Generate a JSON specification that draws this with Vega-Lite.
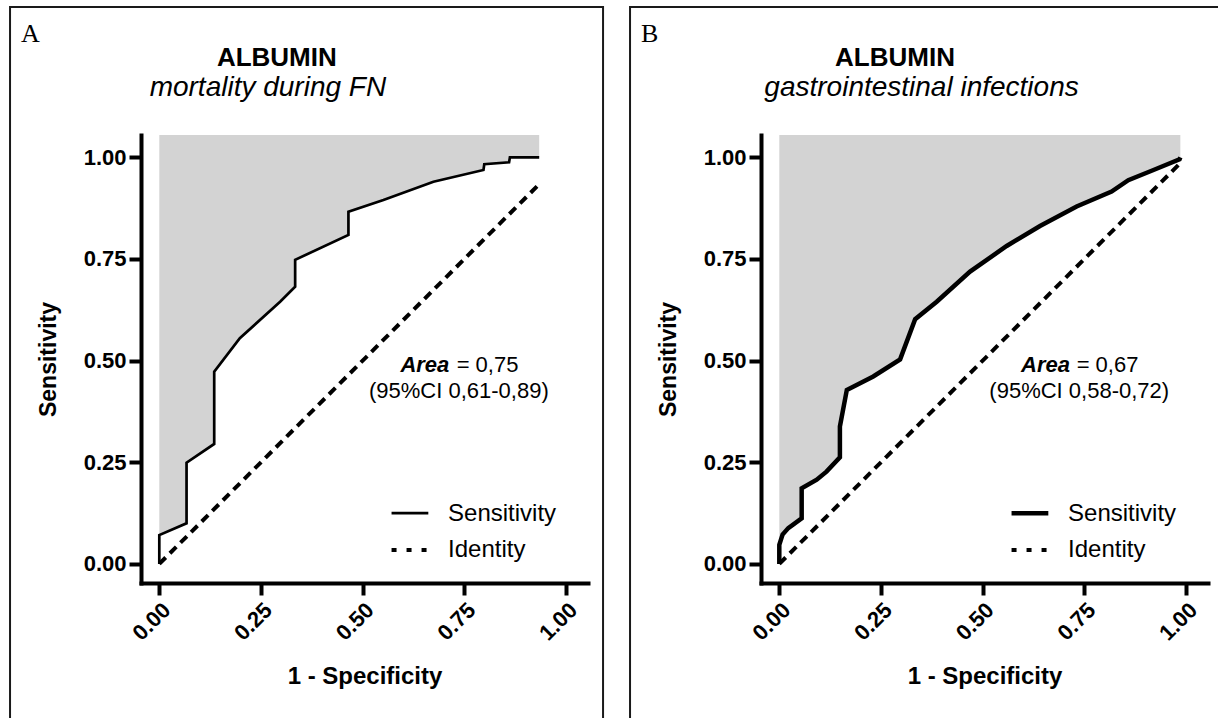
{
  "$schema": "https://vega.github.io/schema/vega-lite/v6.json",
  "background": "white",
  "padding": {"left": 9, "top": 6, "right": 0, "bottom": 0},
  "spacing": 24,
  "config": {
    "view": {"stroke": null},
    "font": "Liberation Sans",
    "axis": {
      "domainColor": "black", "domainWidth": 4, "domainCap": "square",
      "tickColor": "black", "tickWidth": 4, "tickSize": 12,
      "grid": false,
      "labelFont": "Liberation Sans", "labelFontWeight": "bold", "labelFontSize": 22, "labelColor": "black",
      "titleFont": "Liberation Sans", "titleFontWeight": "bold", "titleColor": "black",
      "labelOverlap": false, "labelFlush": false
    },
    "axisX": {"labelAngle": -45, "labelPadding": 4, "titlePadding": 20, "titleFontSize": 24},
    "axisY": {"labelPadding": 3, "titlePadding": 23, "titleFontSize": 23}
  },
  "datasets": {
    "rocA": [
      {"fpr": 0, "sens": 0}, {"fpr": 0, "sens": 0.071}, {"fpr": 0.067, "sens": 0.1}, {"fpr": 0.067, "sens": 0.249},
      {"fpr": 0.135, "sens": 0.295}, {"fpr": 0.135, "sens": 0.473}, {"fpr": 0.198, "sens": 0.555}, {"fpr": 0.297, "sens": 0.645},
      {"fpr": 0.334, "sens": 0.682}, {"fpr": 0.334, "sens": 0.748}, {"fpr": 0.465, "sens": 0.809}, {"fpr": 0.465, "sens": 0.866},
      {"fpr": 0.551, "sens": 0.895}, {"fpr": 0.674, "sens": 0.94}, {"fpr": 0.797, "sens": 0.969}, {"fpr": 0.799, "sens": 0.983},
      {"fpr": 0.86, "sens": 0.988}, {"fpr": 0.862, "sens": 1.0}, {"fpr": 0.934, "sens": 1.0}
    ],
    "idA": [{"fpr": 0, "sens": 0}, {"fpr": 0.935, "sens": 0.935}],
    "rocB": [
      {"fpr": 0, "sens": 0}, {"fpr": 0, "sens": 0.047}, {"fpr": 0.008, "sens": 0.072}, {"fpr": 0.022, "sens": 0.088},
      {"fpr": 0.055, "sens": 0.112}, {"fpr": 0.055, "sens": 0.186}, {"fpr": 0.092, "sens": 0.207}, {"fpr": 0.116, "sens": 0.227},
      {"fpr": 0.149, "sens": 0.262}, {"fpr": 0.149, "sens": 0.338}, {"fpr": 0.166, "sens": 0.428}, {"fpr": 0.231, "sens": 0.461},
      {"fpr": 0.297, "sens": 0.503}, {"fpr": 0.334, "sens": 0.602}, {"fpr": 0.387, "sens": 0.645}, {"fpr": 0.469, "sens": 0.719},
      {"fpr": 0.559, "sens": 0.782}, {"fpr": 0.641, "sens": 0.831}, {"fpr": 0.731, "sens": 0.879}, {"fpr": 0.817, "sens": 0.916},
      {"fpr": 0.858, "sens": 0.944}, {"fpr": 0.92, "sens": 0.969}, {"fpr": 0.984, "sens": 0.995}, {"fpr": 0.986, "sens": 1.0}
    ],
    "idB": [{"fpr": 0, "sens": 0}, {"fpr": 0.985, "sens": 0.985}],
    "one": [{}]
  },
  "hconcat": [
    {
      "width": 447, "height": 448,
      "layer": [
        {
          "data": {"name": "one"},
          "mark": {"type": "rect", "fillOpacity": 0, "stroke": "#1a1a1a", "strokeWidth": 2},
          "encoding": {
            "x": {"datum": -0.367, "type": "quantitative", "scale": {"domain": [-0.045, 1.054], "nice": false, "zero": false}, "title": "1 - Specificity"},
            "x2": {"datum": 1.091},
            "y": {"datum": -0.41, "type": "quantitative", "scale": {"domain": [-0.047, 1.055], "nice": false, "zero": false}, "title": "Sensitivity"},
            "y2": {"datum": 1.3696}
          }
        },
        {
          "data": {"name": "rocA"},
          "mark": {"type": "area", "color": "#d3d3d3"},
          "encoding": {
            "x": {"field": "fpr", "type": "quantitative", "scale": {"domain": [-0.045, 1.054], "nice": false, "zero": false}, "title": "1 - Specificity",
                  "axis": {"values": [0, 0.25, 0.5, 0.75, 1], "format": ".2f"}},
            "y": {"field": "sens", "type": "quantitative", "scale": {"domain": [-0.047, 1.055], "nice": false, "zero": false}, "title": "Sensitivity",
                  "axis": {"values": [0, 0.25, 0.5, 0.75, 1], "format": ".2f"}},
            "y2": {"datum": 1.055}
          }
        },
        {
          "data": {"name": "idA"},
          "mark": {"type": "line", "color": "black", "strokeWidth": 4, "strokeCap": "butt", "strokeDash": [9, 6]},
          "encoding": {
            "x": {"field": "fpr", "type": "quantitative", "title": "1 - Specificity"},
            "y": {"field": "sens", "type": "quantitative", "title": "Sensitivity"}
          }
        },
        {
          "data": {"name": "rocA"},
          "mark": {"type": "line", "color": "black", "strokeWidth": 2.7},
          "encoding": {
            "x": {"field": "fpr", "type": "quantitative", "title": "1 - Specificity"},
            "y": {"field": "sens", "type": "quantitative", "title": "Sensitivity"}
          }
        },
        {
          "data": {"name": "one"},
          "mark": {"type": "rule", "color": "black", "strokeWidth": 2.7},
          "encoding": {"x": {"datum": 0.571, "type": "quantitative"}, "x2": {"datum": 0.6614}, "y": {"datum": 0.1247, "type": "quantitative"}}
        },
        {
          "data": {"name": "one"},
          "mark": {"type": "rule", "color": "black", "strokeWidth": 4, "strokeDash": [5, 10]},
          "encoding": {"x": {"datum": 0.571, "type": "quantitative"}, "x2": {"datum": 0.6614}, "y": {"datum": 0.0344, "type": "quantitative"}}
        },
        {
          "data": {"name": "one"},
          "mark": {"type": "text", "text": "Sensitivity", "fontSize": 24, "align": "left", "baseline": "alphabetic", "color": "black"},
          "encoding": {"x": {"datum": 0.7099, "type": "quantitative"}, "y": {"datum": 0.105, "type": "quantitative"}}
        },
        {
          "data": {"name": "one"},
          "mark": {"type": "text", "text": "Identity", "fontSize": 24, "align": "left", "baseline": "alphabetic", "color": "black"},
          "encoding": {"x": {"datum": 0.7099, "type": "quantitative"}, "y": {"datum": 0.016, "type": "quantitative"}}
        },
        {
          "data": {"name": "one"},
          "mark": {"type": "text", "text": "A", "font": "Liberation Serif", "fontSize": 26, "align": "left", "baseline": "alphabetic", "color": "black"},
          "encoding": {"x": {"datum": -0.34, "type": "quantitative"}, "y": {"datum": 1.2835, "type": "quantitative"}}
        },
        {
          "data": {"name": "one"},
          "mark": {"type": "text", "text": "ALBUMIN", "fontSize": 26, "fontWeight": "bold", "align": "center", "baseline": "alphabetic", "color": "black"},
          "encoding": {"x": {"datum": 0.289, "type": "quantitative"}, "y": {"datum": 1.2245, "type": "quantitative"}}
        },
        {
          "data": {"name": "one"},
          "mark": {"type": "text", "text": "mortality during FN", "fontSize": 28, "fontStyle": "italic", "align": "center", "baseline": "alphabetic", "color": "black"},
          "encoding": {"x": {"datum": 0.267, "type": "quantitative"}, "y": {"datum": 1.151, "type": "quantitative"}}
        },
        {
          "data": {"name": "one"},
          "mark": {"type": "text", "text": "Area", "fontSize": 22, "fontWeight": "bold", "fontStyle": "italic", "align": "right", "baseline": "alphabetic", "color": "black"},
          "encoding": {"x": {"datum": 0.713, "type": "quantitative"}, "y": {"datum": 0.4728, "type": "quantitative"}}
        },
        {
          "data": {"name": "one"},
          "mark": {"type": "text", "text": "= 0,75", "fontSize": 22, "align": "left", "baseline": "alphabetic", "color": "black"},
          "encoding": {"x": {"datum": 0.731, "type": "quantitative"}, "y": {"datum": 0.4728, "type": "quantitative"}}
        },
        {
          "data": {"name": "one"},
          "mark": {"type": "text", "text": "(95%CI 0,61-0,89)", "fontSize": 22, "align": "center", "baseline": "alphabetic", "color": "black"},
          "encoding": {"x": {"datum": 0.7364, "type": "quantitative"}, "y": {"datum": 0.4074, "type": "quantitative"}}
        }
      ]
    },
    {
      "width": 447, "height": 448,
      "layer": [
        {
          "data": {"name": "one"},
          "mark": {"type": "rect", "fillOpacity": 0, "stroke": "#1a1a1a", "strokeWidth": 2},
          "encoding": {
            "x": {"datum": -0.367, "type": "quantitative", "scale": {"domain": [-0.045, 1.054], "nice": false, "zero": false}, "title": "1 - Specificity"},
            "x2": {"datum": 1.091},
            "y": {"datum": -0.41, "type": "quantitative", "scale": {"domain": [-0.047, 1.055], "nice": false, "zero": false}, "title": "Sensitivity"},
            "y2": {"datum": 1.3696}
          }
        },
        {
          "data": {"name": "rocB"},
          "mark": {"type": "area", "color": "#d3d3d3"},
          "encoding": {
            "x": {"field": "fpr", "type": "quantitative", "scale": {"domain": [-0.045, 1.054], "nice": false, "zero": false}, "title": "1 - Specificity",
                  "axis": {"values": [0, 0.25, 0.5, 0.75, 1], "format": ".2f"}},
            "y": {"field": "sens", "type": "quantitative", "scale": {"domain": [-0.047, 1.055], "nice": false, "zero": false}, "title": "Sensitivity",
                  "axis": {"values": [0, 0.25, 0.5, 0.75, 1], "format": ".2f"}},
            "y2": {"datum": 1.055}
          }
        },
        {
          "data": {"name": "idB"},
          "mark": {"type": "line", "color": "black", "strokeWidth": 4, "strokeCap": "butt", "strokeDash": [9, 6]},
          "encoding": {
            "x": {"field": "fpr", "type": "quantitative", "title": "1 - Specificity"},
            "y": {"field": "sens", "type": "quantitative", "title": "Sensitivity"}
          }
        },
        {
          "data": {"name": "rocB"},
          "mark": {"type": "line", "color": "black", "strokeWidth": 4.5},
          "encoding": {
            "x": {"field": "fpr", "type": "quantitative", "title": "1 - Specificity"},
            "y": {"field": "sens", "type": "quantitative", "title": "Sensitivity"}
          }
        },
        {
          "data": {"name": "one"},
          "mark": {"type": "rule", "color": "black", "strokeWidth": 4.5},
          "encoding": {"x": {"datum": 0.571, "type": "quantitative"}, "x2": {"datum": 0.6614}, "y": {"datum": 0.1247, "type": "quantitative"}}
        },
        {
          "data": {"name": "one"},
          "mark": {"type": "rule", "color": "black", "strokeWidth": 4, "strokeDash": [5, 10]},
          "encoding": {"x": {"datum": 0.571, "type": "quantitative"}, "x2": {"datum": 0.6614}, "y": {"datum": 0.0344, "type": "quantitative"}}
        },
        {
          "data": {"name": "one"},
          "mark": {"type": "text", "text": "Sensitivity", "fontSize": 24, "align": "left", "baseline": "alphabetic", "color": "black"},
          "encoding": {"x": {"datum": 0.7099, "type": "quantitative"}, "y": {"datum": 0.105, "type": "quantitative"}}
        },
        {
          "data": {"name": "one"},
          "mark": {"type": "text", "text": "Identity", "fontSize": 24, "align": "left", "baseline": "alphabetic", "color": "black"},
          "encoding": {"x": {"datum": 0.7099, "type": "quantitative"}, "y": {"datum": 0.016, "type": "quantitative"}}
        },
        {
          "data": {"name": "one"},
          "mark": {"type": "text", "text": "B", "font": "Liberation Serif", "fontSize": 26, "align": "left", "baseline": "alphabetic", "color": "black"},
          "encoding": {"x": {"datum": -0.34, "type": "quantitative"}, "y": {"datum": 1.2835, "type": "quantitative"}}
        },
        {
          "data": {"name": "one"},
          "mark": {"type": "text", "text": "ALBUMIN", "fontSize": 26, "fontWeight": "bold", "align": "center", "baseline": "alphabetic", "color": "black"},
          "encoding": {"x": {"datum": 0.2845, "type": "quantitative"}, "y": {"datum": 1.2245, "type": "quantitative"}}
        },
        {
          "data": {"name": "one"},
          "mark": {"type": "text", "text": "gastrointestinal infections", "fontSize": 28, "fontStyle": "italic", "align": "center", "baseline": "alphabetic", "color": "black"},
          "encoding": {"x": {"datum": 0.3497, "type": "quantitative"}, "y": {"datum": 1.151, "type": "quantitative"}}
        },
        {
          "data": {"name": "one"},
          "mark": {"type": "text", "text": "Area", "fontSize": 22, "fontWeight": "bold", "fontStyle": "italic", "align": "right", "baseline": "alphabetic", "color": "black"},
          "encoding": {"x": {"datum": 0.7148, "type": "quantitative"}, "y": {"datum": 0.4728, "type": "quantitative"}}
        },
        {
          "data": {"name": "one"},
          "mark": {"type": "text", "text": "= 0,67", "fontSize": 22, "align": "left", "baseline": "alphabetic", "color": "black"},
          "encoding": {"x": {"datum": 0.731, "type": "quantitative"}, "y": {"datum": 0.4728, "type": "quantitative"}}
        },
        {
          "data": {"name": "one"},
          "mark": {"type": "text", "text": "(95%CI 0,58-0,72)", "fontSize": 22, "align": "center", "baseline": "alphabetic", "color": "black"},
          "encoding": {"x": {"datum": 0.7374, "type": "quantitative"}, "y": {"datum": 0.4074, "type": "quantitative"}}
        }
      ]
    }
  ]
}
